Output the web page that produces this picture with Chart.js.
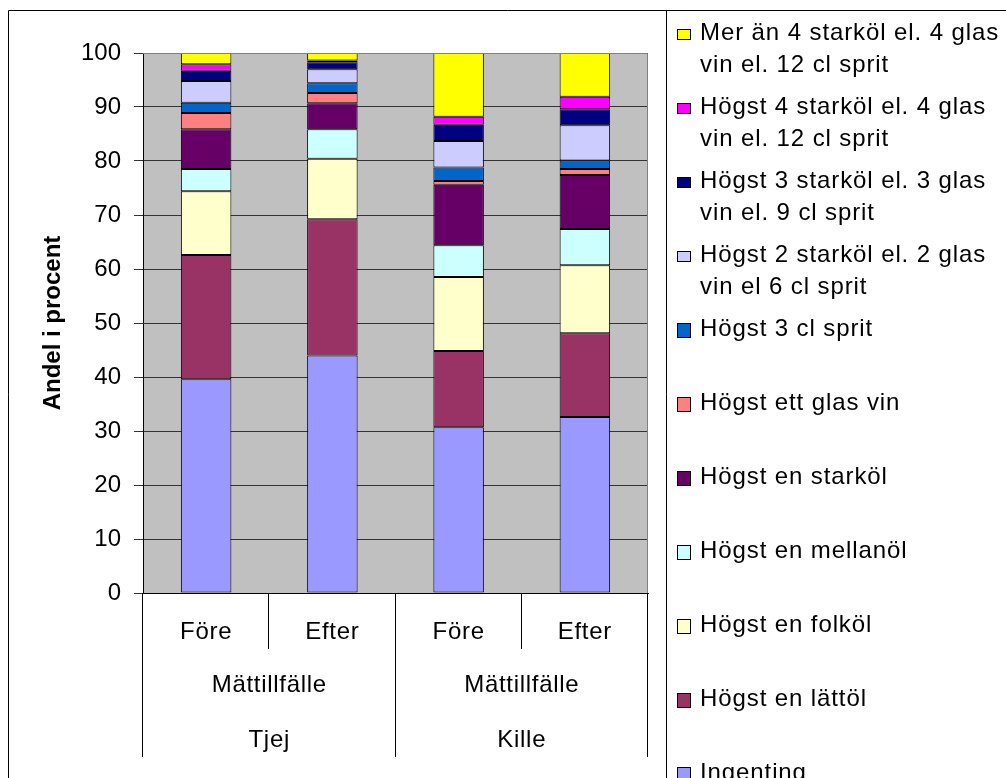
<!DOCTYPE html>
<html lang="sv">
<head>
    <meta charset="UTF-8">
    <title>Andel i procent</title>
    <script src="https://cdn.jsdelivr.net/npm/chart.js"></script>
    <style>
        body { margin: 0; background: #fff; }
    </style>
</head>
<body>
    <canvas id="chart" width="1006" height="778"></canvas>
    <script>
        // categories and axis label levels
        const occasions = ['Före', 'Efter', 'Före', 'Efter'];
        const occasionTitle = 'Mättillfälle';
        const genders = ['Tjej', 'Kille'];

        // series values per bar (Tjej Före, Tjej Efter, Kille Före, Kille Efter)
        const ingenting = [39.6, 44.0, 30.7, 32.6];
        const lattol = [23.0, 25.2, 14.1, 15.5];
        const folkol = [11.8, 11.2, 13.7, 12.6];
        const mellanol = [4.1, 5.5, 5.9, 6.7];
        const starkol = [7.4, 4.8, 11.2, 10.0];
        const glasVin = [3.0, 1.9, 0.7, 1.1];
        const sprit3 = [1.9, 1.8, 2.5, 1.6];
        const hogst2 = [4.0, 2.6, 4.9, 6.5];
        const hogst3 = [1.9, 1.3, 3.0, 3.0];
        const hogst4 = [1.2, 0.3, 1.5, 2.3];
        const merAn4 = [2.1, 1.4, 11.8, 8.1];

        const FONT = '"Liberation Sans", Arial, sans-serif';

        const series = [
            { label: ['Ingenting'], data: ingenting, color: '#9999FF' },
            { label: ['Högst en lättöl'], data: lattol, color: '#993366' },
            { label: ['Högst en folköl'], data: folkol, color: '#FFFFCC' },
            { label: ['Högst en mellanöl'], data: mellanol, color: '#CCFFFF' },
            { label: ['Högst en starköl'], data: starkol, color: '#660066' },
            { label: ['Högst ett glas vin'], data: glasVin, color: '#FF8080' },
            { label: ['Högst 3 cl sprit'], data: sprit3, color: '#0066CC' },
            { label: ['Högst 2 starköl el. 2 glas', 'vin el 6 cl sprit'], data: hogst2, color: '#CCCCFF' },
            { label: ['Högst 3 starköl el. 3 glas', 'vin el. 9 cl sprit'], data: hogst3, color: '#000080' },
            { label: ['Högst 4 starköl el. 4 glas', 'vin el. 12 cl sprit'], data: hogst4, color: '#FF00FF' },
            { label: ['Mer än 4 starköl el. 4 glas', 'vin el. 12 cl sprit'], data: merAn4, color: '#FFFF00' }
        ];

        // gray plot background and frame lines
        const frame = {
            id: 'frame',
            beforeDraw(chart) {
                const { ctx, chartArea: a } = chart;
                ctx.save();
                ctx.fillStyle = '#C0C0C0';
                ctx.fillRect(a.left, a.top, a.right - a.left, a.bottom - a.top);
                ctx.restore();
            },
            afterDatasetsDraw(chart) {
                const { ctx, chartArea: a } = chart;
                ctx.save();
                ctx.strokeStyle = '#808080';
                ctx.lineWidth = 1;
                ctx.beginPath();
                ctx.moveTo(a.left, a.top + 0.5);
                ctx.lineTo(a.right - 0.5, a.top + 0.5);
                ctx.lineTo(a.right - 0.5, a.bottom);
                ctx.stroke();
                ctx.strokeStyle = '#000';
                ctx.beginPath();
                ctx.moveTo(8.5, 778);
                ctx.lineTo(8.5, 10.5);
                ctx.lineTo(1006, 10.5);
                ctx.moveTo(666.5, 10.5);
                ctx.lineTo(666.5, 778);
                ctx.stroke();
                ctx.restore();
            }
        };

        // multi-level category labels under the x axis
        const categoryLevels = {
            id: 'categoryLevels',
            afterDraw(chart) {
                const { ctx, chartArea: a } = chart;
                const x = chart.scales.x;
                const px = occasions.map((_, i) => x.getPixelForValue(i));
                const edge = i => (px[i] + px[i + 1]) / 2;
                ctx.save();
                ctx.strokeStyle = '#000';
                ctx.lineWidth = 1;
                ctx.beginPath();
                [a.left, edge(1), a.right].forEach(v => {
                    const xx = Math.round(v) - 0.5;
                    ctx.moveTo(xx, a.bottom);
                    ctx.lineTo(xx, 757);
                });
                [edge(0), edge(2)].forEach(v => {
                    const xx = Math.round(v) - 0.5;
                    ctx.moveTo(xx, a.bottom);
                    ctx.lineTo(xx, 649);
                });
                ctx.stroke();

                ctx.fillStyle = '#000';
                ctx.font = '24px ' + FONT;
                ctx.letterSpacing = '0.7px';
                ctx.textAlign = 'center';
                ctx.textBaseline = 'alphabetic';
                occasions.forEach((t, i) => ctx.fillText(t, px[i], 639));
                genders.forEach((g, k) => {
                    const mid = (px[2 * k] + px[2 * k + 1]) / 2;
                    ctx.fillText(occasionTitle, mid, 692);
                    ctx.fillText(g, mid, 747);
                });
                ctx.restore();
            }
        };

        // legend at the right, top entry is the last series
        const sideLegend = {
            id: 'sideLegend',
            afterDraw(chart) {
                const { ctx } = chart;
                const sets = chart.data.datasets.slice().reverse();
                ctx.save();
                ctx.font = '24px ' + FONT;
                ctx.letterSpacing = '0.9px';
                ctx.textAlign = 'left';
                ctx.textBaseline = 'alphabetic';
                sets.forEach((ds, i) => {
                    const base = 39.5 + 74 * i;
                    const wrapped = ds.label.length > 1;
                    const h = wrapped ? 10 : 14;
                    const cy = base - 6;
                    ctx.fillStyle = ds.backgroundColor;
                    ctx.fillRect(677.5, Math.round(cy - h / 2) + 0.5, 13, h);
                    ctx.strokeStyle = '#000';
                    ctx.lineWidth = 1;
                    ctx.strokeRect(677.5, Math.round(cy - h / 2) + 0.5, 13, h);
                    ctx.fillStyle = '#000';
                    ds.label.forEach((line, j) => ctx.fillText(line, 700, base + 32 * j));
                });
                ctx.restore();
            }
        };

        new Chart(document.getElementById('chart'), {
            type: 'bar',
            data: {
                labels: occasions,
                datasets: series.map(s => ({
                    label: s.label,
                    data: s.data,
                    backgroundColor: s.color,
                    borderColor: '#000',
                    borderWidth: 1,
                    borderSkipped: false,
                    barPercentage: 0.4,
                    categoryPercentage: 1
                }))
            },
            options: {
                responsive: false,
                animation: false,
                layout: { padding: { left: 0, top: 53, right: 358, bottom: 185 } },
                plugins: {
                    legend: { display: false },
                    tooltip: { enabled: false }
                },
                scales: {
                    x: {
                        stacked: true,
                        ticks: { display: false },
                        grid: { display: false },
                        border: { color: '#000' },
                        afterFit: s => { s.height = 0; }
                    },
                    y: {
                        stacked: true,
                        min: 0,
                        max: 100,
                        ticks: {
                            stepSize: 10,
                            color: '#000',
                            padding: 13,
                            font: { family: FONT, size: 24 }
                        },
                        grid: { color: '#333', tickLength: 9 },
                        border: { color: '#000' },
                        title: {
                            display: true,
                            text: 'Andel i procent',
                            color: '#000',
                            font: { family: FONT, size: 24, weight: 'bold' },
                            padding: { top: 39, bottom: 0 }
                        },
                        afterFit: s => { s.width = 143; }
                    }
                }
            },
            plugins: [frame, categoryLevels, sideLegend]
        });
    </script>
</body>
</html>
